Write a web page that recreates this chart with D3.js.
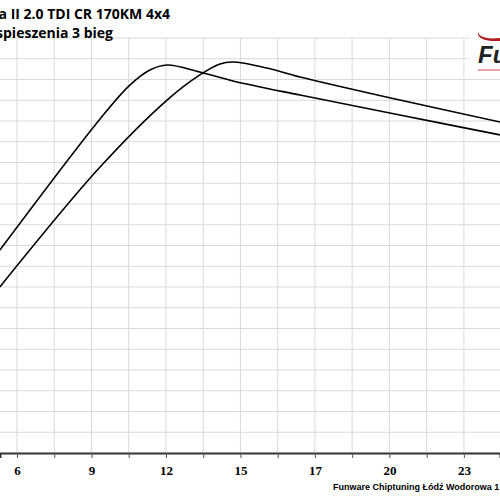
<!DOCTYPE html>
<html><head><meta charset="utf-8">
<script src="https://cdn.jsdelivr.net/npm/d3@7"></script>
<style>body{margin:0;background:#fff}svg{display:block}</style>
</head><body>
<script>
// x in grid-line units (one gridline = half a label step), y in grid-line units
const xTickLabels = ["6","9","12","15","17","20","23"];
const xTickIdx = [0,2,4,6,8,10,12];
const seriesA_x = [-0.46,2.23,3.03,3.57,4.03,4.91,5.80,7.60,10.28,12.97];
const seriesA_y = [9.78,16.1,17.73,18.46,18.7,18.36,17.93,17.25,16.29,15.33];
const seriesB_x = [-0.46,2.23,4.03,4.91,5.45,5.80,6.71,7.60,10.28,12.97];
const seriesB_y = [8.0,13.78,17.01,18.22,18.75,18.84,18.55,18.12,17.01,15.95];

const W=500,H=500;
const svg=d3.select("body").append("svg").attr("width",W).attr("height",H);
const x=d3.scaleLinear().domain([-0.456,12.97]).range([0,500]);
const y=d3.scaleLinear().domain([0,20]).range([453,38]);

// grid
const g=svg.append("g");
g.selectAll(".v").data(d3.range(0,13)).join("line")
 .attr("x1",d=>x(d)).attr("x2",d=>x(d)).attr("y1",y(20)).attr("y2",y(0))
 .attr("stroke","#d9d9d9").attr("stroke-width",1);
g.selectAll(".h").data(d3.range(1,21)).join("line")
 .attr("x1",0).attr("x2",d=>d>=19?470:500).attr("y1",d=>y(d)).attr("y2",d=>y(d))
 .attr("stroke","#d9d9d9").attr("stroke-width",1);

// axis
const ax=svg.append("g").attr("transform",`translate(0,${y(0)})`)
 .call(d3.axisBottom(x).tickValues(d3.range(0,13)).tickSize(5)
   .tickFormat(d=>{const i=xTickIdx.indexOf(d);return i>=0?xTickLabels[i]:"";}));
ax.select(".domain").attr("stroke","#333").attr("stroke-width",2);
ax.selectAll(".tick line").attr("stroke","#555");
ax.selectAll(".tick text").attr("font-family","Liberation Serif").attr("font-weight","bold")
 .attr("font-size",13).attr("fill","#000").attr("dy","1.05em");

// lines
const line=d3.line().x(d=>x(d[0])).y(d=>y(d[1])).curve(d3.curveCatmullRom.alpha(0.5));
[[seriesA_x,seriesA_y],[seriesB_x,seriesB_y]].forEach(([xs,ys])=>{
 svg.append("path").datum(xs.map((v,i)=>[v,ys[i]])).attr("d",line)
  .attr("fill","none").attr("stroke","#000").attr("stroke-width",1.6);
});

// titles
svg.append("text").attr("x",170).attr("y",19).attr("text-anchor","end")
 .attr("font-family","Open Sans").attr("font-weight","bold").attr("font-size",14)
 .text("Skoda Octavia II 2.0 TDI CR 170KM 4x4");
svg.append("text").attr("x",113).attr("y",38).attr("text-anchor","end")
 .attr("font-family","Open Sans").attr("font-weight","bold").attr("font-size",14)
 .text("Wykres przyspieszenia 3 bieg");
svg.append("text").attr("x",333).attr("y",490)
 .attr("font-family","Liberation Sans").attr("font-weight","bold").attr("font-size",9)
 .text("Funware Chiptuning Łódź Wodorowa 1");

// logo
svg.append("path").attr("d","M478,32 Q480,40 500,38 L500,41 Q477,42 478,32Z").attr("fill","#b01c1c");
svg.append("text").attr("x",478).attr("y",63).attr("font-family","Liberation Sans")
 .attr("font-weight","bold").attr("font-style","italic").attr("font-size",24).attr("fill","#222").text("Fu");
svg.append("line").attr("x1",478).attr("x2",500).attr("y1",70).attr("y2",70).attr("stroke","#c44").attr("stroke-width",1);
</script>
</body></html>
